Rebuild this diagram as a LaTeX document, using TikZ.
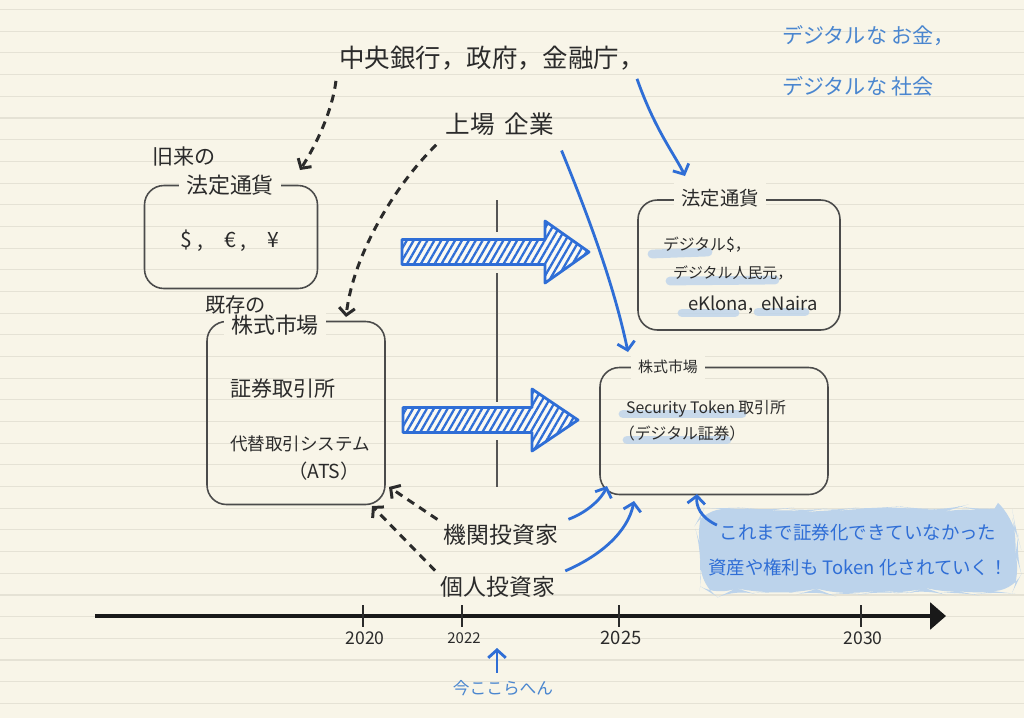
\documentclass[tikz,border=0pt]{standalone}
\usepackage{fontspec}
\setmainfont{Noto Sans CJK JP}
\usepackage{xcolor}
\usepackage{tikz}
\usetikzlibrary{arrows.meta,positioning,calc,patterns.meta,decorations.pathmorphing}
\definecolor{paper}{HTML}{F8F5E8}
\definecolor{ruleline}{HTML}{E5E2D5}
\definecolor{ink}{HTML}{2B2B2B}
\definecolor{pen}{HTML}{2F6ED6}
\definecolor{penlight}{HTML}{4A86CF}
\definecolor{marker}{HTML}{BCD3EB}
\newcommand{\penfont}[1]{\fontsize{#1}{#1}\selectfont}

\begin{document}
\begin{tikzpicture}[
    x=0.02cm, y=-0.02cm,
    font=\penfont{12},
    every node/.style={text=ink, inner sep=1pt},
    box/.style={rectangle, draw=ink!85, line width=0.9pt, rounded corners=11pt},
    tag/.style={fill=paper, inner sep=4pt},
    ruled/.style={draw=ruleline, line width=0.6pt},
    hl/.style={draw=marker, line width=5pt, line cap=round, opacity=.8},
    dasharrow/.style={draw=ink, line width=1.7pt, dash pattern=on 4.5pt off 3.5pt, -{Straight Barb[length=4pt,width=9pt]}},
    bluearrow/.style={draw=pen, line width=1.6pt, -{Straight Barb[length=4.5pt,width=10pt]}},
    bigarrow/.style={draw=pen, line width=1.6pt, line join=round, preaction={fill=white!50!paper}, pattern={Lines[angle=60,distance=3.4pt,line width=1.3pt]}, pattern color=pen},
    bluetext/.style={text=penlight},
    note/.style={fill=marker, rounded corners=12pt, decorate, decoration={random steps, segment length=9pt, amplitude=1.8pt}, minimum width=6.3cm, minimum height=1.65cm, align=center, text=pen, font=\fontsize{10.5}{20}\selectfont},
    divider/.style={draw=ink!80, line width=0.8pt},
    timeline/.style={draw=black!90, line width=2.3pt, -{Triangle[length=9pt,width=15pt]}},
    tickmark/.style={draw=ink, line width=0.8pt}
]
    % paper
    \fill[paper] (0,0) rectangle (1024,718);
    \useasboundingbox (0,0) rectangle (1024,718);
    \foreach \k in {0,...,32}
        \draw[ruled] (0,{9.6+21.68*\k}) -- (1024,{9.6+21.68*\k});

    % boxes
    \node[box, minimum width=3.46cm, minimum height=2.06cm] (oldcur) at (231,237) {};
    \node[box, minimum width=3.56cm, minimum height=3.66cm] (oldmkt) at (296,413) {};
    \node[box, minimum width=4.04cm, minimum height=2.6cm] (newcur) at (739,265) {};
    \node[box, minimum width=4.56cm, minimum height=2.54cm] (newmkt) at (714,431) {};

    \node[tag, font=\penfont{12.5}] (oldcur-tag) at (230,185) {法定通貨};
    \node[tag, font=\penfont{12.5}] (oldmkt-tag) at (275,325) {株式市場};
    \node[tag, font=\penfont{11}] (newcur-tag) at (720,198) {法定通貨};
    \node[tag, font=\penfont{8.5}] (newmkt-tag) at (668,367) {株式市場};

    \node[anchor=west] (oldcur-note) at (150,156) {旧来の};
    \node[anchor=west, font=\penfont{11.5}] (oldmkt-note) at (203,305) {既存の};

    % marker strokes
    \draw[hl] (652,254) -- (708,252);
    \draw[hl] (670,281) -- (775,280);
    \draw[hl] (682,313) -- (735,313);
    \draw[hl] (758,312) -- (805,312);
    \draw[hl] (623,414) -- (742,414);
    \draw[hl] (627,440) -- (727,440);

    % box contents
    \node (fiat) at (230,241) {\$ ,\quad € ,\quad ¥};
    \node[anchor=west] (exch) at (228,388) {証券取引所};
    \node[anchor=west, font=\penfont{10}] (ats) at (228,444) {代替取引システム};
    \node[font=\penfont{11}] (ats-abbr) at (324,471) {（ATS）};
    \node[anchor=west, font=\penfont{9}] (cbdc-usd) at (661,245) {デジタル\$，};
    \node[anchor=west, font=\penfont{8.5}] (cbdc-cny) at (671,273) {デジタル人民元，};
    \node[anchor=west, font=\penfont{10.5}] (cbdc-etc) at (686,305) {eKlona,\ \ eNaira};
    \node[anchor=west, font=\penfont{9}] (sto) at (624,409) {Security Token 取引所};
    \node[anchor=west, font=\penfont{9}] (sto-sub) at (617,433) {（デジタル証券）};

    % actors
    \node[font=\penfont{14.5}] (gov) at (492,58) {中央銀行，政府，金融庁，};
    \node[font=\penfont{14}] (listed) at (500,124) {上場\hspace{0.4em}企業};
    \node[font=\penfont{13}] (inst) at (501,535) {機関投資家};
    \node[font=\penfont{13}] (indiv) at (498,587) {個人投資家};
    \node[bluetext, anchor=west] (motto1) at (780,36) {デジタルな お金，};
    \node[bluetext, anchor=west] (motto2) at (780,86) {デジタルな 社会};
    \node[note] (note) at (858,550) {これまで証券化できていなかった\\資産や権利も Token 化されていく！};

    % divider and shift arrows
    \draw[divider] (497,200) -- (497,232) (497,273) -- (497,402) (497,440) -- (497,487);
    \foreach \xa/\yc/\xb/\xc in {402/252/545/589, 403/420/532/578}
        \draw[bigarrow] (\xa,\yc-12.5) -- (\xb,\yc-12.5) -- (\xb,\yc-31) -- (\xc,\yc)
            -- (\xb,\yc+31) -- (\xb,\yc+12.5) -- (\xa,\yc+12.5) -- cycle;

    % arrow ends
    \coordinate (oc-in) at (300,170);
    \coordinate (om-in) at (346,317);
    \coordinate (om-a) at (389,487);
    \coordinate (om-b) at (372,506);
    \coordinate (nc-in) at (685,176);
    \coordinate (nm-top) at (628,352);
    \coordinate (nm-a) at (607,486);
    \coordinate (nm-b) at (634,501);
    \coordinate (nm-c) at (697,494);

    \draw[dasharrow, shorten <=5pt] (gov.south west) .. controls (332,112) and (316,145) .. (oc-in);
    \draw[dasharrow, shorten <=6pt] (listed.south west) .. controls (395,185) and (353,255) .. (om-in);
    \draw[dasharrow, shorten <=3pt] (inst.north west) -- (om-a);
    \draw[dasharrow, shorten <=3pt] (indiv.north west) -- (om-b);

    \draw[bluearrow, shorten <=4pt] ([xshift=-7pt]gov.south east) .. controls (655,130) and (675,155) .. (nc-in);
    \draw[bluearrow, shorten <=8pt] (listed.south east) .. controls (592,225) and (615,290) .. (nm-top);
    \draw[bluearrow, shorten <=5pt] (inst.north east) .. controls (588,512) and (602,498) .. (nm-a);
    \draw[bluearrow, shorten <=5pt] (indiv.north east) .. controls (600,556) and (628,532) .. (nm-b);
    \draw[bluearrow] ([xshift=9.5pt,yshift=-9.5pt]note.north west) .. controls (700,517) and (696,506) .. (nm-c);

    % timeline
    \coordinate (t0) at (95,616);
    \coordinate (t1) at (946,616);
    \draw[timeline] (t0) -- (t1);
    \foreach \px/\yr/\fsz in {363/2020/10, 462/2022/8.5, 619/2025/10.5, 861/2030/10} {
        \draw[tickmark] (\px,605) -- (\px,627);
        \node[font=\penfont{\fsz}] (y\yr) at (\px+2,638) {\yr};
    }
    \node[bluetext, font=\penfont{9.5}] (now) at (503,688) {今ここらへん};
    \coordinate (now-pt) at (497,648);
    \draw[bluearrow, shorten <=3pt] (now-pt |- now.north) -- (now-pt);
\end{tikzpicture}
\end{document}
